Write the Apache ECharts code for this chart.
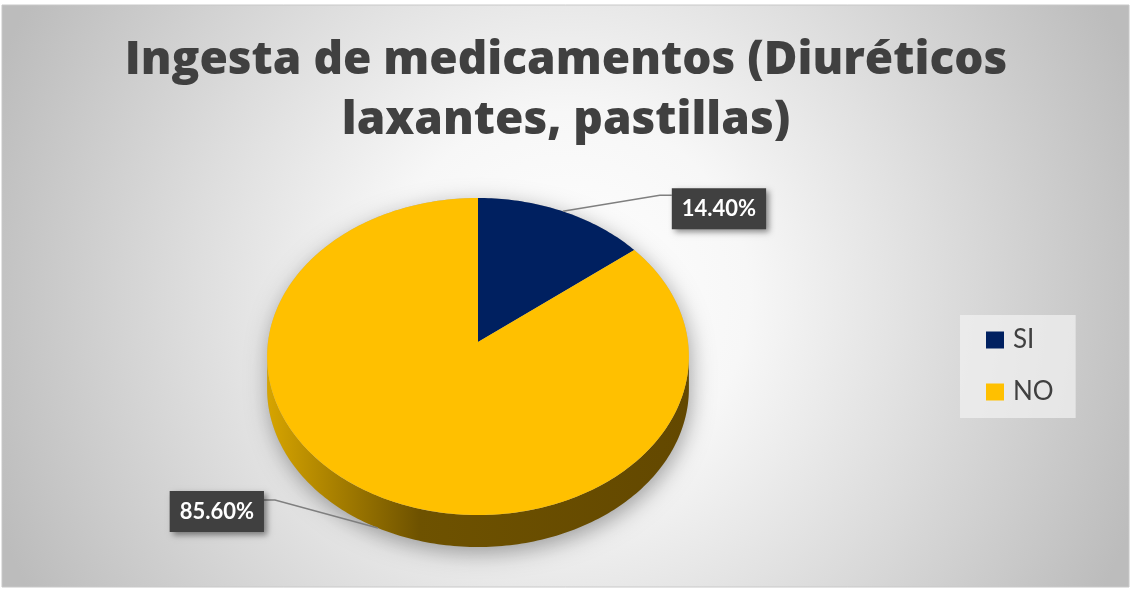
<!DOCTYPE html>
<html>
<head>
<meta charset="utf-8">
<script src="https://cdn.jsdelivr.net/npm/echarts@6/dist/echarts.min.js"></script>
<style>
html,body{margin:0;padding:0;background:#ffffff;}
#chart{width:1132px;height:590px;}
</style>
</head>
<body>
<div id="chart"></div>
<script>
// ---- data ----
const categories = ['SI', 'NO'];
const values = [14.4, 85.6];
const titleLines = ['Ingesta de medicamentos (Diuréticos', 'laxantes, pastillas)'];

// ---- style / layout ----
const COLORS = ['#002060', '#FFC000'];
const SIDE_STOPS = [
  [{offset:0,color:'#0a1f4d'},{offset:1,color:'#00102f'}],
  [{offset:0,color:'#d6a400'},{offset:0.36,color:'#6e5200'},{offset:1,color:'#634800'}]
];
// perspective ellipse: tip (centre) at CX,TIP_Y
const CX = 478, TIP_Y = 342, RX = 210, RY = 157.2, PERSP = 0.0915, DEPTH = 32;
const SIL = Math.acos(-PERSP) * 180 / Math.PI; // silhouette angle
const LABEL_POS = [
  {elbow:[97,-16], end:[12,0], box:[0,13.5], align:'left'},
  {elbow:[-103,-28], end:[-11,0], box:[0,11.5], align:'right'}
];

const total = values.reduce((a,b)=>a+b,0);
function pt(deg, dy){
  const r = deg*Math.PI/180, c = Math.cos(r), s = 1/(1 + PERSP*c);
  return [CX + RX*Math.sin(r)*s, TIP_Y - RY*c*s + (dy||0)];
}
function arc(a0, a1, dy){ const out=[]; const n=Math.max(2, Math.ceil(Math.abs(a1-a0))); for(let k=0;k<=n;k++){ out.push(pt(a0+(a1-a0)*k/n, dy)); } return out; }

function sliceRender(i){
  return function(params, api){
    const v = api.value(0);
    let before = 0; for(let j=0;j<i;j++) before += values[j];
    const a0 = before/total*360, a1 = a0 + v/total*360;
    const children = [];
    const s = Math.max(a0, SIL), e = Math.min(a1, 360-SIL);
    if (s < e) {
      const pts = arc(s, e, 0).concat(arc(e, s, DEPTH));
      children.push({type:'polygon', shape:{points:pts}, style:{fill:{type:'linear', x:CX-RX, y:0, x2:CX+RX, y2:0, global:true, colorStops:SIDE_STOPS[i]}}});
    }
    const top = [[CX, TIP_Y]].concat(arc(a0, a1, 0));
    children.push({type:'polygon', shape:{points:top}, style:{fill:COLORS[i]}});
    // label
    const m = (a0+a1)/2;
    const front = (m > 90 && m < 270);
    const anc = pt(m, front ? DEPTH : 0);
    const L = LABEL_POS[i];
    const elbow = [anc[0]+L.elbow[0], anc[1]+L.elbow[1]];
    const endp = [elbow[0]+L.end[0], elbow[1]+L.end[1]];
    children.push({type:'polyline', z2:10, shape:{points:[anc, elbow, endp]}, style:{stroke:'#7f7f7f', lineWidth:1.5, fill:null}});
    children.push({type:'text', z2:11, style:{
      x: endp[0]+L.box[0], y: elbow[1]+L.box[1], text: v.toFixed(2)+'%', align:L.align, verticalAlign:'middle',
      fill:'#ffffff', fontFamily:'Lato', fontWeight:'bold', fontSize:22, lineHeight:23,
      backgroundColor:'#404040', padding:[9,10,9,10],
      shadowColor:'rgba(0,0,0,0.45)', shadowBlur:6, shadowOffsetX:3, shadowOffsetY:3
    }});
    return {type:'group', children};
  };
}

const series = [{
  type:'custom', name:'_shadow', coordinateSystem:'none', z:1, silent:true,
  data:[[0]],
  renderItem:function(){
    const pts = arc(-SIL, SIL, 0).concat(arc(SIL, 360-SIL, DEPTH));
    return {type:'polygon', shape:{points:pts}, style:{fill:'#b0b0b0', shadowColor:'rgba(0,0,0,0.35)', shadowBlur:22, shadowOffsetX:2, shadowOffsetY:6}};
  }
}];
categories.forEach((c,i)=>{
  series.push({type:'custom', name:c, coordinateSystem:'none', z:2, itemStyle:{color:COLORS[i]}, data:[[values[i]]], renderItem:sliceRender(i)});
});

const chart = echarts.init(document.getElementById('chart'));
chart.setOption({
  animation:false,
  graphic:[{type:'rect', z:-10, silent:true, shape:{x:2,y:5,width:1127,height:582},
    style:{stroke:'#c8c8c8', lineWidth:1, fill:{type:'radial', x:0.5, y:0.5, r:1.05,
      colorStops:[{offset:0,color:'#ffffff'},{offset:0.3,color:'#f7f7f7'},{offset:0.6,color:'#dedede'},{offset:1,color:'#bcbcbc'}]}}}],
  title:{text:titleLines.join('\n'), left:'center', top:26,
    textStyle:{fontFamily:'Open Sans', fontWeight:800, fontSize:46, lineHeight:60, color:'#404040'}},
  legend:{data:categories, orient:'vertical', left:960, top:315, icon:'rect', itemWidth:18, itemHeight:17, itemGap:26,
    backgroundColor:'rgba(242,242,242,0.7)', padding:[12,22,13,26],
    textStyle:{fontFamily:'Lato', fontSize:26, lineHeight:26, color:'#404040', padding:[0,0,0,4]}},
  series:series
});
</script>
</body>
</html>
